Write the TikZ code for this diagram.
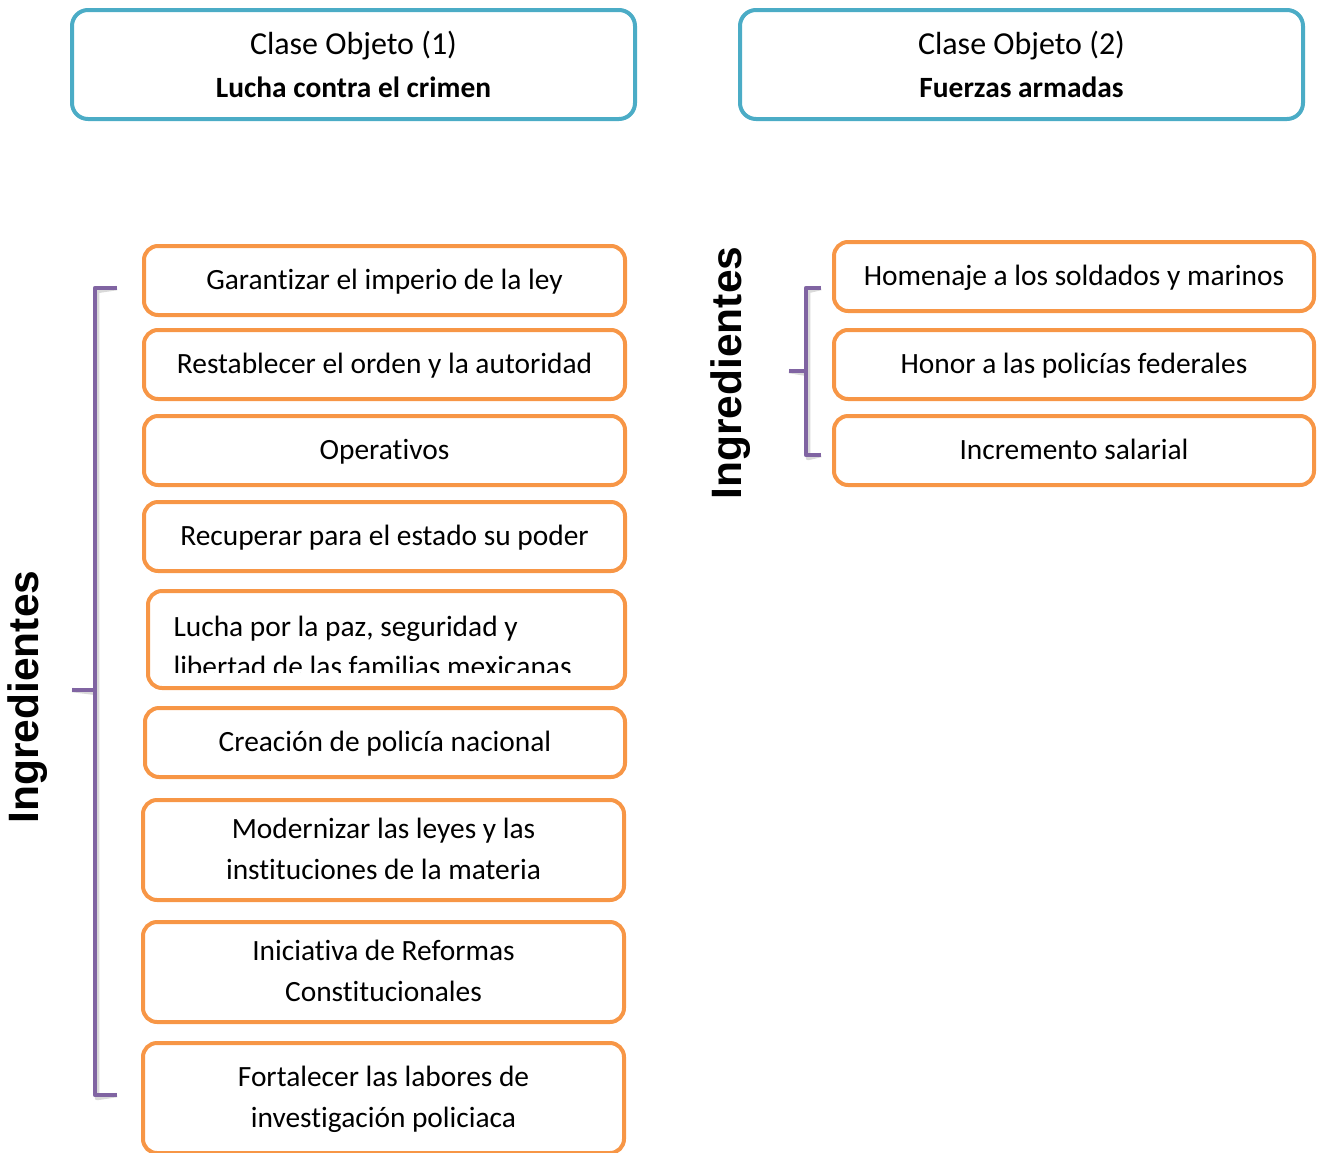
\documentclass[tikz,border=0pt]{standalone}
\usepackage{fontspec}
\setmainfont{Carlito}[Ligatures=NoCommon]
\newfontfamily\arialfont{Liberation Sans}
\usepackage{tikz}
\definecolor{azulobj}{HTML}{4BACC6}
\definecolor{naranja}{HTML}{F79646}
\definecolor{morado}{HTML}{8064A2}

\begin{document}
\begin{tikzpicture}[x=1pt, y=-1pt,
  clase/.style={draw=azulobj, line width=4pt, rounded corners=16pt, minimum width=563pt, minimum height=109pt, text depth=-2pt, align=center, font=\fontsize{32}{43}\selectfont},
  ingr/.style={draw=naranja, line width=4pt, rounded corners=14pt, minimum width=481pt, minimum height=69pt, inner sep=0pt, text depth=3pt, align=center, font=\fontsize{29.4}{41}\selectfont},
  llave/.style={draw=morado, line width=4.5pt, line join=round},
  sombra/.style={draw=black!25, line width=4.5pt, line join=round, opacity=0.6, shift={(2,3)}},
  titulo/.style={rotate=90, font=\arialfont\bfseries\fontsize{42.5}{42}\selectfont}]
\useasboundingbox (0,0) rectangle (1318,1152);
%%%%% Clases %%%%%
\node[clase] (clase1) at (353.5,64.5) {Clase Objeto (1)\\\fontsize{29.4}{43}\selectfont\textbf{Lucha contra el crimen}};
\node[clase] (clase2) at (1021.5,64.5) {Clase Objeto (2)\\\fontsize{29.4}{43}\selectfont\textbf{Fuerzas armadas}};
%%%%% Ingredientes (1) %%%%%
\foreach \n/\y/\t in {a1/280.5/Garantizar el imperio de la ley,
                      a2/364.5/Restablecer el orden y la autoridad,
                      a3/450.5/Operativos,
                      a4/536.5/Recuperar para el estado su poder}{
\node[ingr] (\n) at (384.5,\y) {\t};
}
\node[ingr, minimum width=477pt, minimum height=97pt] (a5) at (386.5,639.5) {};
\begin{scope}
\clip (150,593) rectangle (623,672);
\node[anchor=west, align=left, font=\fontsize{29.4}{40}\selectfont] (a5txt) at (170,646) {Lucha por la paz, seguridad y\\libertad de las familias mexicanas};
\end{scope}
\node[ingr, minimum width=480pt] (a6) at (385,742.5) {Creación de policía nacional};
\node[ingr, minimum height=100pt] (a7) at (383.5,850) {Modernizar las leyes y las\\instituciones de la materia};
\node[ingr, minimum height=100pt] (a8) at (383.5,972) {Iniciativa de Reformas\\Constitucionales};
\node[ingr, minimum height=110pt] (a9) at (383.5,1098) {Fortalecer las labores de\\investigación policiaca};
%%%%% Ingredientes (2) %%%%%
\foreach \n/\y/\t in {b1/276.5/Homenaje a los soldados y marinos,
                      b2/364.5/Honor a las policías federales,
                      b3/450.5/Incremento salarial}{
\node[ingr, minimum width=480pt] (\n) at (1074,\y) {\t};
}
%%%%% Llaves %%%%%
\coordinate (lA) at (117,288);
\coordinate (lB) at (117,1095);
\coordinate (lC) at (72,690);
\draw[sombra] (lA) -- (95,288) -- (95,1095) -- (lB) (95,690) -- (lC);
\draw[llave] (lA) -- (95,288) -- (95,1095) -- (lB) (95,690) -- (lC);
\coordinate (rA) at (821,288);
\coordinate (rB) at (821,455);
\coordinate (rC) at (789,371);
\draw[sombra] (rA) -- (806,288) -- (806,455) -- (rB) (806,371) -- (rC);
\draw[llave] (rA) -- (806,288) -- (806,455) -- (rB) (806,371) -- (rC);
\node[titulo] (ing1) at (28,697) {Ingredientes};
\node[titulo] (ing2) at (731,373) {Ingredientes};
\end{tikzpicture}
\end{document}
